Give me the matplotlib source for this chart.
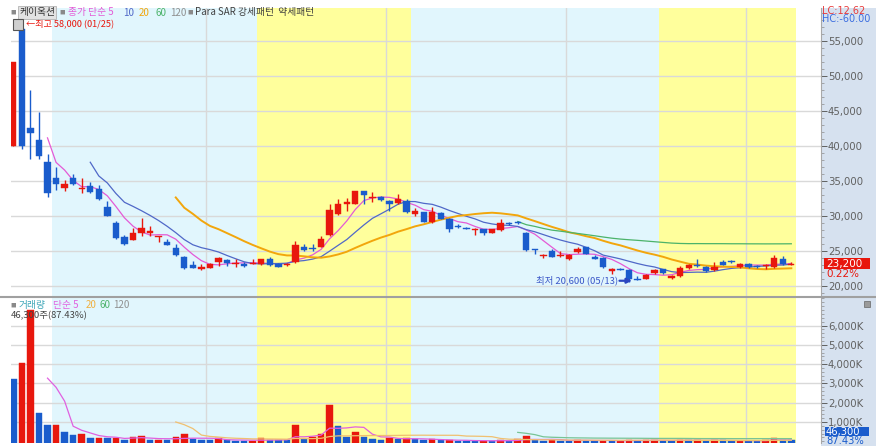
import matplotlib
matplotlib.use('Agg')
import matplotlib.pyplot as plt
import numpy as np
import pandas as pd
from matplotlib.patches import Rectangle
from matplotlib.ticker import FixedLocator, MultipleLocator, FuncFormatter
from matplotlib.transforms import blended_transform_factory

plt.rcParams['font.family'] = ['Noto Sans CJK KR', 'DejaVu Sans']

# ---------------- data ----------------
opens = [40000, 56700, 42500, 40850, 37700, 35400, 34000, 35450, 33800, 34300,
         33800, 31350, 29050, 27050, 26550, 27600, 27600, 27000, 26350, 25450,
         24100, 23000, 22400, 22600, 23450, 23700, 23100, 23200, 23200, 23100,
         23800, 23200, 22950, 23400, 25550, 25450, 25600, 27300, 30250, 31650,
         31750, 33550, 32550, 32750, 32150, 31900, 32150, 30350, 30550, 29150,
         30450, 29600, 28550, 28350, 27950, 28100, 27550, 28000, 28950, 29150,
         27550, 25250, 24300, 25000, 24300, 23900, 24850, 25550, 24150, 24000,
         22100, 22450, 22250, 21050, 21050, 21900, 22400, 21200, 21400, 22500,
         22950, 22700, 22250, 23450, 23500, 22700, 23200, 22800, 22850, 22700,
         23900, 23050]
highs = [52000, 58000, 48000, 44850, 38800, 37000, 35100, 36050, 35450, 34900,
         34450, 32150, 29300, 27250, 28350, 29650, 28550, 27150, 26650, 25950,
         24300, 23550, 23100, 23350, 24200, 23900, 23800, 23450, 23900, 23900,
         24200, 23350, 23350, 26450, 25950, 25950, 27150, 31750, 32450, 32600,
         33550, 33600, 33450, 32850, 32250, 33100, 32450, 31200, 30600, 31300,
         30600, 29750, 28800, 28400, 28350, 28200, 28150, 29500, 29200, 29300,
         27700, 25350, 24620, 25350, 25000, 24620, 25570, 25600, 24380, 24150,
         22570, 22600, 22380, 21430, 21760, 22380, 22480, 21620, 22810, 23190,
         23900, 22800, 23430, 23760, 23760, 23290, 23290, 22950, 23190, 24480,
         24290, 23400]
lows = [40000, 39500, 38100, 38200, 32750, 33650, 33500, 34450, 33250, 33350,
        32300, 30000, 26650, 25800, 26550, 27150, 27150, 26300, 25850, 24300,
        22400, 22550, 22300, 22600, 22850, 22850, 22700, 22750, 23100, 23000,
        22850, 22750, 22850, 23350, 25000, 25000, 25500, 27150, 30100, 30700,
        31700, 31650, 32000, 32150, 30700, 31650, 30450, 30000, 29100, 29050,
        29550, 27700, 28350, 28150, 27250, 27300, 27500, 27850, 28700, 28850,
        25000, 24620, 24050, 24150, 24150, 23670, 24760, 24550, 23810, 22620,
        21760, 22250, 20600, 20810, 20950, 21760, 21760, 21050, 21290, 22380,
        22710, 22050, 22140, 22950, 23330, 22620, 22570, 22570, 22480, 22620,
        22950, 23000]
closes = [52000, 40000, 41900, 38550, 33350, 34500, 34500, 34500, 34050, 33450,
          32400, 30000, 26900, 25950, 27500, 28250, 27800, 27150, 25850, 24400,
          22500, 22600, 22750, 23200, 24050, 23250, 23200, 22800, 23350, 23800,
          23000, 22750, 23200, 25800, 25150, 25350, 26650, 30800, 31650, 32000,
          33550, 33000, 32700, 32300, 31750, 32400, 30550, 30700, 29150, 30550,
          29600, 28200, 28450, 28200, 28100, 27600, 28100, 29050, 28800, 28950,
          25100, 25100, 24400, 24150, 24400, 24400, 25350, 24600, 23900, 22700,
          22450, 22350, 21050, 20900, 21600, 22250, 21900, 21400, 22600, 22950,
          22800, 22100, 22700, 23050, 23400, 23200, 22650, 22650, 23050, 24050,
          23150, 23200]
volumes = [3210000, 4070000, 6800000, 1450000, 830000, 840000, 480000, 310000, 390000, 150000,
           165000, 160000, 190000, 85000, 240000, 270000, 50000, 55000, 50000, 240000,
           360000, 100000, 50000, 45000, 170000, 50000, 30000, 25000, 30000, 155000,
           70000, 65000, 60000, 830000, 140000, 220000, 360000, 1860000, 790000, 240000,
           480000, 240000, 100000, 85000, 190000, 140000, 150000, 100000, 50000, 100000,
           50000, 55000, 30000, 28000, 25000, 30000, 20000, 50000, 30000, 100000,
           260000, 50000, 30000, 70000, 40000, 35000, 80000, 40000, 30000, 40000,
           30000, 40000, 60000, 40000, 50000, 60000, 40000, 35000, 70000, 50000,
           60000, 40000, 50000, 45000, 30000, 40000, 35000, 30000, 45000, 180000,
           52957, 46300]

# Para SAR pattern bands (candle index ranges)
band_start = [4.5, 28.5, 46.5, 75.5]
band_end = [28.5, 46.5, 75.5, 91.5]
band_kind = ['약세', '강세', '약세', '강세']
period_lines = [22.5, 43.6, 64.6, 85.7]

price_ticks = [20000, 25000, 30000, 35000, 40000, 45000, 50000, 55000]
volume_ticks = [1000000, 2000000, 3000000, 4000000, 5000000, 6000000]
high_label = '←최고 58,000 (01/25)'
low_label = '최저 20,600 (05/13)'

# ---------------- style ----------------
W, H = 876, 446
RED = '#e8170d'
BLUE = '#1a5ccc'
C_MA5 = '#e45ad6'
C_MA10 = '#5068c8'
C_MA20 = '#f2a60c'
C_MA60 = '#4cb36a'
C_120 = '#909090'
BG_WEAK = '#e1f6fd'
BG_STRONG = '#ffff9c'
GRID = '#d9d9d9'
PANEL = '#d6e1ef'
NUMFONT = ['Liberation Sans Narrow', 'DejaVu Sans']

fig = plt.figure(figsize=(W / 100, H / 100), dpi=100)
fig.patch.set_facecolor('white')


def fx(px):
    return px / W


def fy(py):
    return 1 - py / H


def ptext(px, py, s, **kw):
    kw.setdefault('va', 'center')
    kw.setdefault('ha', 'left')
    return fig.text(fx(px), fy(py), s, **kw)


# right axis panel
fig.add_artist(Rectangle((fx(821), 0), fx(876) - fx(821), fy(8), transform=fig.transFigure,
                         fc=PANEL, ec='none', zorder=0))

L, R = 11, 821
ax_p = fig.add_axes([fx(L), fy(296), fx(R) - fx(L), (296 - 8) / H])
ax_v = fig.add_axes([fx(L), fy(443), fx(R) - fx(L), (443 - 298) / H])

n = len(closes)
x = np.arange(n)
o = np.array(opens, float)
c = np.array(closes, float)
h = np.array(highs, float)
lo = np.array(lows, float)
v = np.array(volumes, float)

xlim = (-0.27, 94.47)
p_lim = (18571, 59714)
v_lim = (-88000, 7425000)

for ax in (ax_p, ax_v):
    ax.set_xlim(*xlim)
    ax.set_facecolor('white')
    for s0, s1, k in zip(band_start, band_end, band_kind):
        ax.axvspan(s0, s1, color=BG_STRONG if k == '강세' else BG_WEAK, lw=0, zorder=0)
    for pl in period_lines:
        ax.axvline(pl, color=GRID, lw=1, zorder=0.5)
    ax.set_xticks([])
    for sp in ('top', 'left', 'bottom'):
        ax.spines[sp].set_visible(False)
    ax.spines['right'].set_color('#a8a8a8')
    ax.spines['right'].set_linewidth(0.8)
    ax.yaxis.tick_right()
    ax.tick_params(axis='y', which='major', direction='out', length=4, width=0.7,
                   colors='#606060', labelsize=7.3, pad=1)
    ax.tick_params(axis='y', which='minor', direction='out', length=1.8, width=0.5, colors='#8a8a8a')
    ax.grid(axis='y', which='major', color=GRID, lw=1, zorder=0.5)
    ax.set_axisbelow(True)

# ---- price panel ----
ax_p.set_ylim(*p_lim)
ax_p.yaxis.set_major_locator(FixedLocator(price_ticks))
ax_p.yaxis.set_minor_locator(MultipleLocator(1000))
ax_p.yaxis.set_major_formatter(FuncFormatter(lambda val, pos: f'{int(val):,}'))
for lab in ax_p.get_yticklabels():
    lab.set_family(NUMFONT)

s_close = pd.Series(c)
ma_specs = [(5, C_MA5, 0.9), (10, C_MA10, 0.9), (20, C_MA20, 1.4), (60, C_MA60, 0.9)]
for win, col, lw in ma_specs:
    ax_p.plot(x, s_close.rolling(win).mean(), color=col, lw=lw, zorder=2)

up = c >= o
col_c = np.where(up, RED, BLUE)
ax_p.vlines(x, lo, h, colors=col_c, lw=1.0, zorder=3)
body_h = np.maximum(np.abs(c - o), 130)
body_b = np.minimum(o, c)
body_b = np.where(np.abs(c - o) < 130, (o + c) / 2 - 65, body_b)
ax_p.bar(x, body_h, bottom=body_b, width=0.74, color=col_c, edgecolor=col_c, lw=0.3, zorder=4)

# high / low annotations
imax = int(np.argmax(h))
imin = int(np.argmin(lo))
ax_p.text(imax + 0.45, h[imax] - 450, high_label, color=RED, fontsize=6.6, va='center', ha='left', zorder=6)
ax_p.text(imin - 1.3, lo[imin] + 150, low_label, color='#3a56c8', fontsize=6.8, va='center', ha='right', zorder=6)
ax_p.annotate('', xy=(imin + 0.35, lo[imin] + 150), xytext=(imin - 1.1, lo[imin] + 150),
              arrowprops=dict(arrowstyle='-|>', color='#2a46c0', lw=1.6, mutation_scale=7,
                              shrinkA=0, shrinkB=0), zorder=6)

# current price box
tr = blended_transform_factory(fig.transFigure, ax_p.transData)
ax_p.add_patch(Rectangle((fx(824), c[-1] - 800), fx(870) - fx(824), 1600, transform=tr,
                         fc=RED, ec='none', clip_on=False, zorder=7))
ax_p.text(fx(826), c[-1], f'{int(c[-1]):,}', transform=tr, color='white', fontsize=7.5,
          va='center', ha='left', family=NUMFONT, clip_on=False, zorder=8)
chg = (c[-1] - c[-2]) / c[-2] * 100
ax_p.text(fx(826), c[-1] - 1450, f'{chg:.2f}%', transform=tr, color=RED, fontsize=7.5,
          va='center', ha='left', family=NUMFONT, clip_on=False, zorder=8)

# ---- volume panel ----
ax_v.set_ylim(*v_lim)
ax_v.yaxis.set_major_locator(FixedLocator(volume_ticks))
ax_v.yaxis.set_minor_locator(MultipleLocator(200000))
ax_v.yaxis.set_major_formatter(FuncFormatter(lambda val, pos: f'{int(val / 1000):,}K'))
for lab in ax_v.get_yticklabels():
    lab.set_family(NUMFONT)

vup = np.concatenate([[False], v[1:] > v[:-1]])
col_v = np.where(vup, RED, BLUE)
ax_v.bar(x, v - v_lim[0], bottom=v_lim[0], width=0.76, color=col_v, edgecolor=col_v, lw=0.3, zorder=3)
s_vol = pd.Series(v)
for win, col, lw in [(5, '#e060e0', 0.9), (20, '#f0c070', 0.9), (60, '#78c496', 0.9)]:
    ax_v.plot(x, s_vol.rolling(win).mean(), color=col, lw=lw, zorder=4)

# volume box
fig.add_artist(Rectangle((fx(825), fy(436)), fx(869) - fx(825), 9 / H, transform=fig.transFigure,
                         fc=BLUE, ec='none', zorder=7))
ptext(826, 431.5, f'{int(v[-1]):,}', color='white', fontsize=7.2, family=NUMFONT, zorder=8)
ptext(826, 440.5, f'{v[-1] / v[-2] * 100:.2f}%', color=BLUE, fontsize=7.2, family=NUMFONT, zorder=8)

# separator between panels
fig.add_artist(plt.Line2D([0, 1], [fy(297), fy(297)], color='#a0a0a0', lw=1.5, transform=fig.transFigure, zorder=9))

# ---- legend texts ----
sq = dict(fontsize=4, color='#8a8a8a')
ptext(10.5, 12.5, '■', **sq)
ptext(19, 12.5, '케이옥션', fontsize=7, color='#333333',
      bbox=dict(boxstyle='square,pad=0.12', fc='#e2e2e2', ec='#b4b4b4', lw=0.6))
ptext(59, 12.5, '■', **sq)
ptext(68, 12.5, '종가 단순 5', fontsize=7, color=C_MA5)
ptext(123, 12.5, '10', fontsize=7, color=C_MA10)
ptext(139, 12.5, '20', fontsize=7, color=C_MA20)
ptext(155, 12.5, '60', fontsize=7, color=C_MA60)
ptext(170, 12.5, '120', fontsize=7, color=C_120)
ptext(187, 12.5, '■', **sq)
ptext(195, 12.5, 'Para SAR 강세패턴  약세패턴', fontsize=7, color='#404040')

# small icon near high marker
fig.add_artist(Rectangle((fx(13), fy(30)), 10 / W, 11 / H, transform=fig.transFigure,
                         fc='#cfcfcf', ec='#555555', lw=0.8, zorder=9))

ptext(10.5, 305, '■', **sq)
ptext(19, 305, '거래량', fontsize=7, color='#3ea6b8')
ptext(53, 305, '단순 5', fontsize=7, color='#e060e0')
ptext(86, 305, '20', fontsize=7, color='#f0b040')
ptext(99, 305, '60', fontsize=7, color='#4cb36a')
ptext(113, 305, '120', fontsize=7, color=C_120)
ptext(11, 316, f'{int(v[-1]):,}주({v[-1] / v[-2] * 100:.2f}%)', fontsize=6.8, color='#444444')

# LC / HC labels
ptext(822, 10.5, 'LC:12.62', fontsize=7, color='#e83c3c', family=NUMFONT)
ptext(822, 19, 'HC:-60.00', fontsize=7, color='#3c6ee0', family=NUMFONT)

# volume panel icon
fig.add_artist(Rectangle((fx(864), fy(307)), 6 / W, 6 / H, transform=fig.transFigure,
                         fc='#9a9a9a', ec='#666666', lw=0.5, zorder=9))

fig.savefig('out.png', dpi=100)
